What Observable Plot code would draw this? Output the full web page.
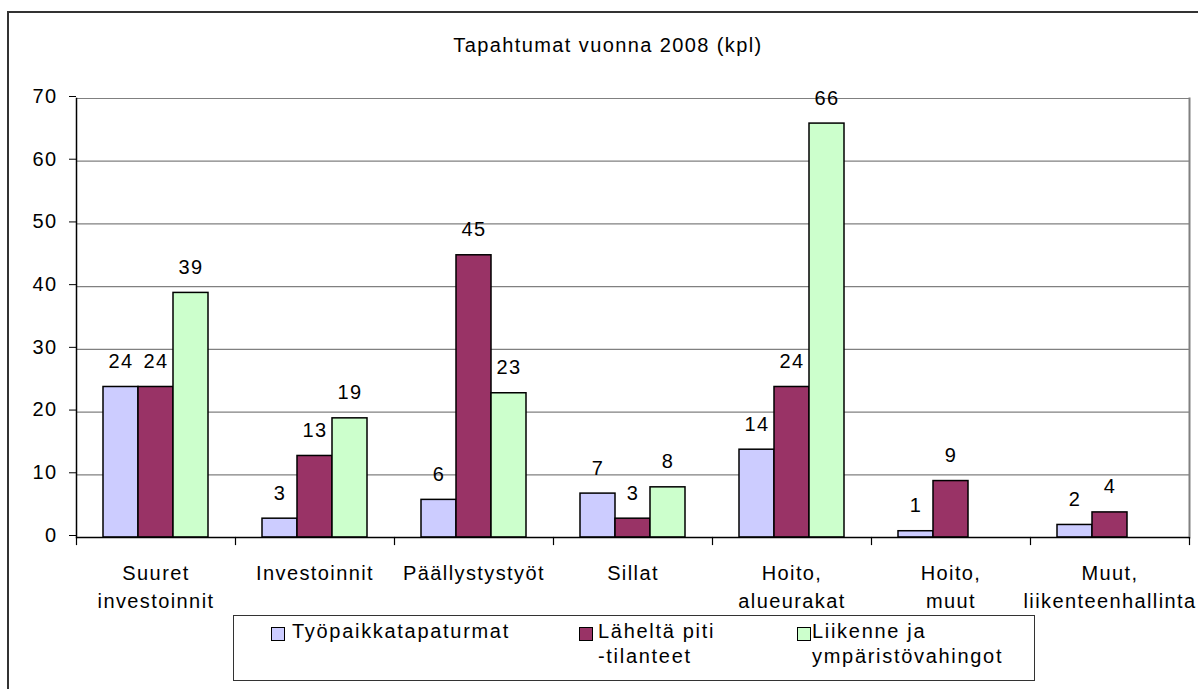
<!DOCTYPE html>
<html>
<head>
<meta charset="utf-8">
<script src="https://cdn.jsdelivr.net/npm/d3@7"></script>
<script src="https://cdn.jsdelivr.net/npm/@observablehq/plot@0.6"></script>
<style>
  html, body { margin: 0; padding: 0; background: white; overflow: hidden; }
  #wrap { position: relative; width: 1198px; height: 689px; font-family: 'Liberation Sans', Arial, sans-serif; color: black; }
  #outer { position: absolute; left: 7px; top: 11px; width: 1300px; height: 800px; border-left: 2px solid #333; border-top: 2px solid #333; pointer-events: none; }
  #title { position: absolute; left: 0; top: 35px; width: 1216px; text-align: center; font-size: 20px; line-height: 20px; letter-spacing: 1.4px; }
  #chart { position: absolute; left: 0; top: 0; }
  #legend { position: absolute; left: 233px; top: 615px; width: 800px; height: 64px; border: 1.5px solid #333; }
  .item { position: absolute; top: 3px; font-size: 20px; line-height: 25px; letter-spacing: 1.7px; white-space: pre; }
  .sw { position: absolute; width: 12px; height: 12px; border: 1px solid black; }
</style>
</head>
<body>
<div id="wrap">
  <div id="outer"></div>
  <div id="title"></div>
  <div id="chart"></div>
  <div id="legend"></div>
</div>
<script>
const title = "Tapahtumat vuonna 2008 (kpl)";
const categories = ["Suuret\ninvestoinnit", "Investoinnit", "Päällystystyöt", "Sillat", "Hoito,\nalueurakat", "Hoito,\nmuut", "Muut,\nliikenteenhallinta"];
const seriesNames = ["Työpaikkatapaturmat", "Läheltä piti\n-tilanteet", "Liikenne ja\nympäristövahingot"];
const tyopaikkatapaturmat = [24, 3, 6, 7, 14, 1, 2];
const laheltaPiti = [24, 13, 45, 3, 24, 9, 4];
const liikenneYmparisto = [39, 19, 23, 8, 66, null, null];
const yTicks = [0, 10, 20, 30, 40, 50, 60, 70];
const colors = ["#CCCCFF", "#993366", "#CCFFCC"];

const seriesValues = [tyopaikkatapaturmat, laheltaPiti, liikenneYmparisto];
const rows = [];
categories.forEach((c, i) => {
  seriesNames.forEach((s, j) => {
    const v = seriesValues[j][i];
    if (v != null) rows.push({category: c, series: s, value: v});
  });
});

document.getElementById("title").textContent = title;

const chart = Plot.plot({
  width: 1198,
  height: 689,
  marginLeft: 74,
  marginRight: 7,
  marginTop: 98,
  marginBottom: 152,
  style: {fontFamily: "'Liberation Sans', Arial, sans-serif", fontSize: "20px", letterSpacing: "1.4px", background: "transparent", color: "black"},
  fx: {domain: categories, padding: 0, label: null},
  x: {domain: seriesNames, paddingInner: 0, paddingOuter: 0.72, axis: null},
  y: {domain: [0, 70], label: null},
  color: {domain: seriesNames, range: colors},
  marks: [
    Plot.gridY(yTicks, {stroke: "#808080", strokeOpacity: 1, strokeWidth: 1.2}),
    Plot.frame({anchor: "right", facetAnchor: "right", stroke: "#808080", strokeWidth: 2}),
    Plot.barY(rows, {fx: "category", x: "series", y: "value", fill: "series", stroke: "black", strokeWidth: 1.5}),
    Plot.text(rows, {fx: "category", x: "series", y: "value", text: d => String(d.value), lineAnchor: "bottom", dy: -19, fill: "black"}),
    Plot.ruleY([0], {stroke: "black", strokeWidth: 1.5}),
    Plot.frame({anchor: "left", facetAnchor: "left", stroke: "black", strokeWidth: 1.5}),
    Plot.frame({anchor: "left", insetTop: 439, insetBottom: -7, stroke: "black", strokeWidth: 1.2}),
    Plot.frame({anchor: "right", facetAnchor: "right", insetTop: 439, insetBottom: -7, stroke: "black", strokeWidth: 1.2}),
    Plot.axisY({ticks: yTicks, tickSize: 7, tickPadding: 12, label: null, stroke: "black", dy: -2}),
    Plot.axisFx({anchor: "bottom", tickSize: 0, tickPadding: 22, lineHeight: 1.42, label: null})
  ]
});
document.getElementById("chart").appendChild(chart);

const legend = document.getElementById("legend");
const swLeft = [37, 345, 563];
const txtLeft = [58, 364, 578];
seriesNames.forEach((s, j) => {
  const sw = document.createElement("div");
  sw.className = "sw";
  sw.style.left = swLeft[j] + "px";
  sw.style.top = "11px";
  sw.style.background = colors[j];
  legend.appendChild(sw);
  const t = document.createElement("div");
  t.className = "item";
  t.style.left = txtLeft[j] + "px";
  t.textContent = s;
  legend.appendChild(t);
});
</script>
</body>
</html>
